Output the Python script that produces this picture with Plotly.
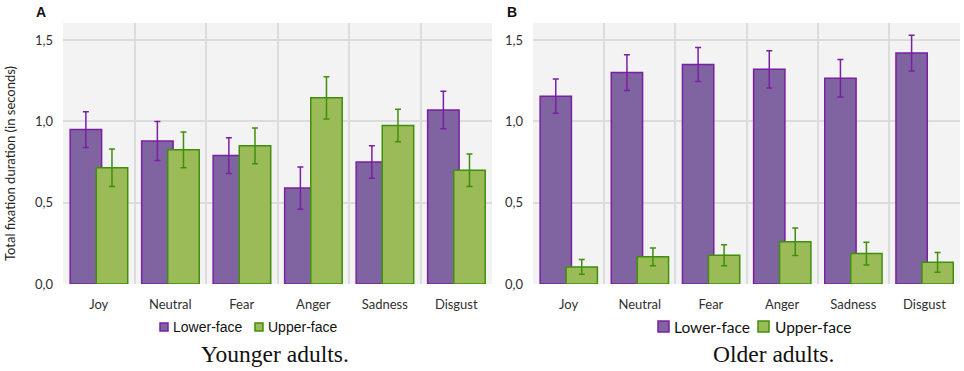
import plotly.graph_objects as go

categories = ["Joy", "Neutral", "Fear", "Anger", "Sadness", "Disgust"]
tick_vals = [0, 0.5, 1.0, 1.5]
tick_labels = ["0,0", "0,5", "1,0", "1,5"]
series_names = ["Lower-face", "Upper-face"]

young_lower = [0.95, 0.88, 0.79, 0.59, 0.75, 1.07]
young_lower_err = [0.11, 0.12, 0.11, 0.13, 0.10, 0.115]
young_upper = [0.715, 0.825, 0.85, 1.145, 0.975, 0.70]
young_upper_err = [0.115, 0.11, 0.11, 0.13, 0.10, 0.10]

old_lower = [1.155, 1.30, 1.35, 1.32, 1.265, 1.42]
old_lower_err = [0.105, 0.11, 0.105, 0.115, 0.115, 0.11]
old_upper = [0.105, 0.167, 0.177, 0.26, 0.187, 0.133]
old_upper_err = [0.045, 0.055, 0.065, 0.085, 0.07, 0.06]

PURPLE_FILL = "#8064A2"
PURPLE_LINE = "#7A1FA2"
GREEN_FILL = "#9BBB59"
GREEN_LINE = "#3F8F0A"

W_BAR = 0.44
OFF_L = -0.40
OFF_U = -0.035

fig = go.Figure()

def add_pair(lower, lerr, upper, uerr, xa, ya):
    fig.add_trace(go.Bar(
        x=categories, y=lower, name=series_names[0], xaxis=xa, yaxis=ya,
        width=W_BAR, offset=OFF_L,
        marker=dict(color=PURPLE_FILL, line=dict(color=PURPLE_LINE, width=1.5)),
        error_y=dict(type="data", array=lerr, color=PURPLE_LINE, thickness=1.5, width=3),
    ))
    fig.add_trace(go.Bar(
        x=categories, y=upper, name=series_names[1], xaxis=xa, yaxis=ya,
        width=W_BAR, offset=OFF_U,
        marker=dict(color=GREEN_FILL, line=dict(color=GREEN_LINE, width=1.5)),
        error_y=dict(type="data", array=uerr, color=GREEN_LINE, thickness=1.5, width=3),
    ))

add_pair(young_lower, young_lower_err, young_upper, young_upper_err, "x", "y")
add_pair(old_lower, old_lower_err, old_upper, old_upper_err, "x2", "y2")

H = 371.0
W = 964.0
ydom = [1 - 284 / H, 1 - 23 / H]

tickfont = dict(family="Lato, Open Sans, sans-serif", size=13, color="#303030")
xcommon = dict(showgrid=True, gridcolor="#DCDCDC", gridwidth=1.5, tickfont=tickfont,
               ticks="", zeroline=False, showline=False, tickson="boundaries",
               ticklabelstandoff=11, automargin=False)
ycommon = dict(range=[0, 1.605], tickvals=tick_vals, ticktext=tick_labels,
               showgrid=True, gridcolor="#DCDCDC", gridwidth=1.5, tickfont=tickfont,
               zeroline=False, showline=False, ticklabelstandoff=9, domain=ydom,
               automargin=False)

fig.update_layout(
    width=964, height=371,
    margin=dict(l=0, r=0, t=0, b=0, autoexpand=False),
    paper_bgcolor="white",
    plot_bgcolor="#F3F3F3",
    barmode="overlay",
    showlegend=False,
    xaxis=dict(domain=[63 / W, 492 / W], anchor="y", **xcommon),
    yaxis=dict(anchor="x", **ycommon),
    xaxis2=dict(domain=[533 / W, 960 / W], anchor="y2", **xcommon),
    yaxis2=dict(anchor="x2", **ycommon),
)

def px(x):
    return x / W

def py(y):
    return 1 - y / H

def label(text, x, y, font, **kw):
    d = dict(text=text, x=px(x), y=py(y), xref="paper", yref="paper",
             xanchor="center", yanchor="middle", showarrow=False, font=font)
    d.update(kw)
    return d

bold_font = dict(family="Liberation Sans, Arial", size=14, color="#111")
serif_font = dict(family="Liberation Serif, Times New Roman, serif", size=23.5, color="#111")

annotations = [
    label("<b>A</b>", 41, 12, bold_font),
    label("<b>B</b>", 512, 12, bold_font),
    label("Total fixation duration (in seconds)", 10, 164,
          dict(family="Lato, Open Sans, sans-serif", size=13, color="#222"), textangle=-90),
    label("Younger adults.", 275, 354, serif_font),
    label("Older adults.", 773, 354, serif_font),
]

shapes = []
# legend for panel A (Arial-like, small squares)
legA = [(160, 171, PURPLE_FILL, PURPLE_LINE), (255, 266, GREEN_FILL, GREEN_LINE)]
for (sx, tx, fc, lc), name in zip(legA, series_names):
    shapes.append(dict(type="rect", xref="paper", yref="paper",
                       x0=px(sx), x1=px(sx + 8), y0=py(331), y1=py(323),
                       fillcolor=fc, line=dict(color=lc, width=1.5)))
    annotations.append(label(name, tx, 327,
                             dict(family="Liberation Sans, Arial", size=14, color="#111"),
                             xanchor="left"))
# legend for panel B (larger squares)
legB = [(658, 672, PURPLE_FILL, PURPLE_LINE), (758, 773, GREEN_FILL, GREEN_LINE)]
for (sx, tx, fc, lc), name in zip(legB, series_names):
    shapes.append(dict(type="rect", xref="paper", yref="paper",
                       x0=px(sx), x1=px(sx + 11), y0=py(332), y1=py(321),
                       fillcolor=fc, line=dict(color=lc, width=1.5)))
    annotations.append(label(name, tx, 327,
                             dict(family="Lato, Open Sans, sans-serif", size=15.5, color="#111"),
                             xanchor="left"))

fig.update_layout(annotations=annotations, shapes=shapes)

fig.write_html("out.html", config={"displayModeBar": False},
               post_script="document.body.style.margin='0px';document.body.style.overflow='hidden';")
